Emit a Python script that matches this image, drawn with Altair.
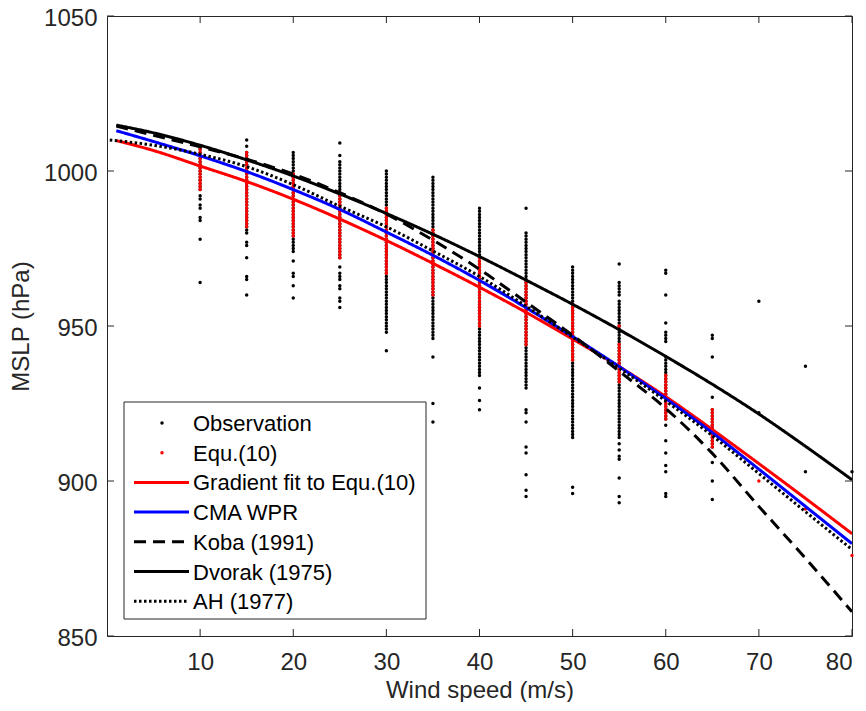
import altair as alt
import pandas as pd

# ---------------- data ----------------
curve_speeds = [1, 5, 10, 15, 20, 25, 30, 35, 40, 45, 50, 55, 60, 65, 70, 75, 80]
gradient_fit = [1009.8, 1006.6, 1001.6, 996.6, 990.9, 984.5, 977.6, 970.2, 962.5, 954.4,
                945.8, 936.9, 927.2, 916.6, 905.6, 894.4, 883.0]
cma_wpr = [1013.0, 1009.5, 1004.9, 999.8, 994.0, 987.6, 980.3, 972.8, 964.7, 955.9,
           946.6, 936.9, 926.6, 915.6, 903.8, 891.8, 879.8]
koba = [1014.5, 1011.5, 1007.8, 1003.8, 999.0, 993.0, 986.1, 977.7, 968.3, 957.7,
        947.0, 935.4, 923.4, 908.9, 891.8, 875.1, 857.8]
dvorak = [1014.8, 1012.3, 1008.3, 1003.6, 998.4, 992.6, 986.3, 979.6, 972.4, 964.8,
          957.0, 948.8, 940.2, 931.2, 921.6, 911.2, 900.4]
ah_speeds = [0.3, 5, 10, 15, 20, 25, 30, 35, 40, 45, 50, 55, 60, 65, 70, 75, 80]
ah = [1010.0, 1008.3, 1005.4, 1001.4, 995.6, 988.6, 982.0, 974.2, 966.0, 956.4,
      946.4, 936.4, 925.8, 914.6, 902.4, 890.1, 877.9]

obs_speeds = [10, 15, 20, 25, 30, 35, 40, 45, 50, 55, 60, 65, 70, 75, 80]

obs_10 = [1008, 1007, 1006, 1005, 1004, 1003, 1002, 1001, 1000, 999, 998, 997, 996, 995, 994,
          992, 991, 989, 988, 985, 984, 978, 964]
obs_15 = [1010, 1008, 1006, 1005, 1004, 1003, 1002, 1001, 1000, 999, 998, 997, 996, 995, 994,
          993, 992, 991, 990, 989, 988, 987, 986, 985, 984, 983, 982, 981, 980, 977, 976, 972,
          966, 965, 960]
obs_20 = [1006, 1005, 1004, 1003, 1002, 1001, 1000, 999, 998, 997, 996, 995, 994, 993, 992, 991,
          990, 989, 988, 987, 986, 985, 984, 983, 982, 981, 980, 979, 978, 977, 976, 975, 974,
          971, 967, 966, 963, 959]
obs_25 = [1009, 1005, 1003, 1002, 1001, 1000, 999, 998, 997, 996, 995, 994, 993, 992, 991, 990,
          989, 988, 987, 986, 985, 984, 983, 982, 981, 980, 979, 978, 977, 976, 975, 974, 973,
          972, 969, 967, 966, 965, 963, 962, 959, 958, 956]
obs_30 = [1000, 999, 998, 997, 996, 995, 994, 993, 992, 991, 990, 989, 988, 987, 986, 985, 984,
          983, 982, 981, 980, 979, 978, 977, 976, 975, 974, 973, 972, 971, 970, 969, 968, 967,
          966, 965, 964, 963, 962, 961, 960, 959, 958, 957, 956, 955, 954, 953, 952, 951, 950,
          949, 948, 942]
obs_35 = [998, 997, 996, 995, 994, 993, 992, 991, 990, 989, 988, 987, 986, 985, 984, 983, 982,
          981, 980, 979, 978, 977, 976, 975, 974, 973, 972, 971, 970, 969, 968, 967, 966, 965,
          964, 963, 962, 961, 960, 959, 958, 957, 956, 955, 954, 953, 952, 951, 950, 949, 948,
          947, 946, 940, 925, 919]
obs_40 = [988, 987, 986, 985, 984, 983, 982, 981, 980, 979, 978, 977, 976, 975, 974, 973, 972,
          971, 970, 969, 968, 967, 966, 965, 964, 963, 962, 961, 960, 959, 958, 957, 956, 955,
          954, 953, 952, 951, 950, 949, 948, 947, 946, 945, 944, 943, 942, 941, 940, 939, 938,
          937, 936, 935, 934, 930, 926, 923]
obs_45 = [988, 980, 979, 978, 977, 976, 975, 974, 973, 972, 971, 970, 969, 968, 967, 966, 965,
          964, 963, 962, 961, 960, 959, 958, 957, 956, 955, 954, 953, 952, 951, 950, 949, 948,
          947, 946, 945, 944, 943, 942, 941, 940, 939, 938, 937, 936, 935, 934, 933, 932, 931,
          930, 923, 922, 919, 911, 909, 902, 897, 895]
obs_50 = [969, 968, 967, 966, 965, 964, 963, 962, 961, 960, 959, 958, 957, 956, 955, 954, 953,
          952, 951, 950, 949, 948, 947, 946, 945, 944, 943, 942, 941, 940, 939, 938, 937, 936,
          935, 934, 933, 932, 931, 930, 929, 928, 927, 926, 925, 924, 923, 922, 921, 920, 919,
          918, 917, 916, 915, 914, 898, 896]
obs_55 = [970, 964, 963, 962, 961, 960, 958, 957, 956, 955, 954, 953, 952, 951, 950, 949, 948,
          947, 946, 945, 944, 943, 942, 941, 940, 939, 938, 937, 936, 935, 934, 933, 932, 931,
          930, 929, 928, 927, 926, 925, 924, 923, 922, 921, 920, 919, 918, 917, 916, 915, 914,
          912, 910, 908, 907, 901, 895, 893]
obs_60 = [968, 967, 960, 951, 948, 947, 946, 945, 940, 939, 938, 937, 936, 935, 934, 933, 932,
          931, 930, 929, 928, 927, 926, 925, 924, 923, 922, 921, 920, 918, 913, 909, 905, 903,
          896, 895]
obs_65 = [947, 946, 940, 927, 923, 922, 921, 920, 919, 918, 917, 916, 915, 914, 913, 912, 911,
          906, 900, 894]
obs_70 = [958, 922]
obs_75 = [937, 903]
obs_80 = [903]

eq_10 = [1007, 1006, 1005, 1004, 1003, 1002, 1001, 1000, 999, 998, 997, 996, 995, 994]
eq_15 = [1006, 1005, 1004, 1003, 1002, 1001, 1000, 999, 998, 997, 996, 995, 994, 993, 992, 991,
         990, 989, 988, 987, 986, 985, 984, 983, 982]
eq_20 = [999, 998, 997, 996, 995, 994, 993, 992, 991, 990, 989, 988, 987, 986, 985, 984, 983,
         982, 981, 980, 979]
eq_25 = [993, 992, 991, 990, 989, 988, 987, 986, 985, 984, 983, 982, 981, 980, 979, 978, 977,
         976, 975, 974, 973, 972]
eq_30 = [988, 987, 986, 985, 984, 983, 982, 981, 980, 979, 978, 977, 976, 975, 974, 973, 972,
         971, 970, 969, 968, 967]
eq_35 = [981, 980, 979, 978, 977, 976, 975, 974, 973, 972, 971, 970, 969, 968, 967, 966, 965,
         964, 963, 962, 961, 960]
eq_40 = [972, 971, 970, 969, 968, 967, 966, 965, 964, 963, 962, 961, 960, 959, 958, 957, 956,
         955, 954, 953, 952, 951, 950]
eq_45 = [964, 963, 962, 961, 960, 959, 958, 957, 956, 955, 954, 953, 952, 951, 950, 949, 948,
         947, 946, 945, 944]
eq_50 = [957, 956, 955, 954, 953, 952, 951, 950, 949, 948, 947, 946, 945, 944, 943, 942, 941,
         940, 939]
eq_55 = [950, 944, 943, 942, 941, 940, 939, 938, 937, 936, 935, 934, 933, 932]
eq_60 = [934, 933, 932, 931, 930, 929, 928, 927, 926, 925, 924, 923, 922, 921, 920]
eq_65 = [923, 922, 921, 920, 919, 918, 917, 916, 915, 914, 913, 912, 911]
eq_70 = [900]
eq_75 = [891]
eq_80 = [876]

obs_columns = [obs_10, obs_15, obs_20, obs_25, obs_30, obs_35, obs_40, obs_45, obs_50,
               obs_55, obs_60, obs_65, obs_70, obs_75, obs_80]
eq_columns = [eq_10, eq_15, eq_20, eq_25, eq_30, eq_35, eq_40, eq_45, eq_50,
              eq_55, eq_60, eq_65, eq_70, eq_75, eq_80]

x_ticks = [10, 20, 30, 40, 50, 60, 70, 80]
y_ticks = [850, 900, 950, 1000, 1050]

legend_labels = ["Observation", "Equ.(10)", "Gradient fit to Equ.(10)", "CMA WPR",
                 "Koba (1991)", "Dvorak (1975)", "AH (1977)"]

# ---------------- tables ----------------
obs_df = pd.DataFrame([(s, p) for s, col in zip(obs_speeds, obs_columns) for p in col],
                      columns=["speed", "mslp"])
eq_df = pd.DataFrame([(s, p) for s, col in zip(obs_speeds, eq_columns) for p in col],
                     columns=["speed", "mslp"])

W, H = 745, 620
AX = "#262626"
FONT = "Liberation Sans"

xs = alt.Scale(domain=[0, 80], nice=False, zero=False)
ys = alt.Scale(domain=[850, 1050], nice=False, zero=False)

x_axis = alt.Axis(values=x_ticks, title="Wind speed (m/s)", format="d")
y_axis = alt.Axis(values=y_ticks, title="MSLP (hPa)", format="d")


def X(field):
    return alt.X(field, scale=xs, axis=x_axis)


def Y(field):
    return alt.Y(field, scale=ys, axis=y_axis)


obs_layer = alt.Chart(obs_df).mark_circle(size=12, color="black", opacity=1).encode(
    x=X("speed:Q"), y=Y("mslp:Q"))
eq_layer = alt.Chart(eq_df).mark_circle(size=12, color="red", opacity=1).encode(
    x=X("speed:Q"), y=Y("mslp:Q"))

line_specs = [
    (curve_speeds, gradient_fit, "red", [1, 0]),
    (curve_speeds, cma_wpr, "blue", [1, 0]),
    (curve_speeds, koba, "black", [12, 7]),
    (curve_speeds, dvorak, "black", [1, 0]),
    (ah_speeds, ah, "black", [2.5, 2.5]),
]
line_layers = []
for spd, vals, col, dash in line_specs:
    df = pd.DataFrame({"speed": spd, "mslp": vals})
    line_layers.append(
        alt.Chart(df).mark_line(color=col, strokeWidth=3, strokeDash=dash,
                                interpolate="monotone", clip=True).encode(
            x=X("speed:Q"), y=Y("mslp:Q"))
    )

# inward ticks on all four sides
xt = pd.DataFrame({"v": x_ticks})
yt = pd.DataFrame({"v": y_ticks})
TL = 7
tick_layers = [
    alt.Chart(xt).mark_rule(color=AX, strokeWidth=1).encode(
        x=X("v:Q"), y=alt.value(H), y2=alt.value(H - TL)),
    alt.Chart(xt).mark_rule(color=AX, strokeWidth=1).encode(
        x=X("v:Q"), y=alt.value(0), y2=alt.value(TL)),
    alt.Chart(yt).mark_rule(color=AX, strokeWidth=1).encode(
        y=Y("v:Q"), x=alt.value(0), x2=alt.value(TL)),
    alt.Chart(yt).mark_rule(color=AX, strokeWidth=1).encode(
        y=Y("v:Q"), x=alt.value(W), x2=alt.value(W - TL)),
]

# legend (drawn in the plot's pixel space)
one = pd.DataFrame({"a": [0]})
LX0, LX1, LY0, LY1 = 17, 319, 386, 603
row_y = [407 + 29.7 * i for i in range(len(legend_labels))]
legend_layers = [
    alt.Chart(one).mark_rect(fill="white", stroke=AX, strokeWidth=1).encode(
        x=alt.value(LX0), x2=alt.value(LX1), y=alt.value(LY0), y2=alt.value(LY1))
]
sym_styles = [("dot", "black", None), ("dot", "red", None), ("line", "red", [1, 0]),
              ("line", "blue", [1, 0]), ("line", "black", [12, 7]),
              ("line", "black", [1, 0]), ("line", "black", [2.5, 2.5])]
for (kind, col, dash), yy, lab in zip(sym_styles, row_y, legend_labels):
    if kind == "dot":
        legend_layers.append(alt.Chart(one).mark_circle(size=12, color=col, opacity=1).encode(
            x=alt.value(55), y=alt.value(yy)))
    else:
        legend_layers.append(alt.Chart(one).mark_rule(color=col, strokeWidth=3, strokeDash=dash).encode(
            x=alt.value(27), x2=alt.value(82), y=alt.value(yy)))
    legend_layers.append(alt.Chart(one).mark_text(
        align="left", baseline="middle", fontSize=22, font=FONT, color="black").encode(
        x=alt.value(86), y=alt.value(yy + 1), text=alt.value(lab)))

chart = alt.layer(obs_layer, eq_layer, *line_layers, *tick_layers, *legend_layers).properties(
    width=W, height=H,
    autosize=alt.AutoSizeParams(type="none"),
    padding={"left": 99, "top": 8, "right": 6, "bottom": 66},
).configure_view(
    stroke=AX, strokeWidth=1
).configure_axis(
    ticks=False, domain=False, grid=False, tickSize=0,
    labelFont=FONT, labelFontSize=24, labelColor=AX,
    titleFont=FONT, titleFontSize=24, titleColor=AX, titleFontWeight="normal",
).configure_axisX(
    labelPadding=14, titlePadding=4
).configure_axisY(
    labelPadding=10, titlePadding=10, labelOffset=2
)

chart.save("out.html", embed_options={"renderer": "svg", "actions": False})
